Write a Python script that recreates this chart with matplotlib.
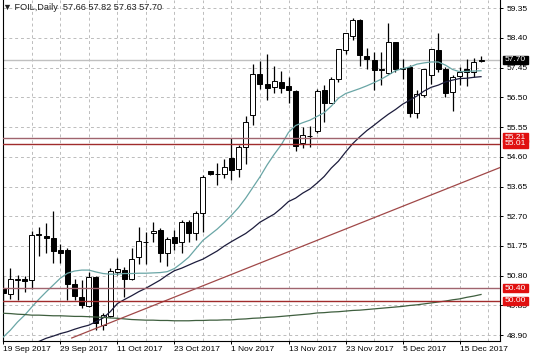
import matplotlib
matplotlib.use("Agg")
import matplotlib.pyplot as plt
from matplotlib.patches import Rectangle
from matplotlib.transforms import blended_transform_factory

plt.rcParams['font.family'] = ['Liberation Sans', 'DejaVu Sans']

# daily OHLC, 19 Sep 2017 .. 20 Dec 2017
opens = [50.40, 50.23, 50.67, 50.71, 50.66, 52.10, 52.07, 52.01, 51.62, 51.62,
         50.52, 50.13, 49.83, 50.75, 49.22, 49.51, 50.91, 50.98, 50.68, 51.40,
         51.87, 52.15, 52.26, 51.54, 52.04, 51.88, 52.52, 52.15, 52.79, 54.14,
         54.04, 54.05, 54.55, 54.20, 54.90, 55.93, 57.24, 56.91, 56.83, 57.00,
         56.87, 56.71, 55.03, 55.25, 55.43, 56.73, 56.32, 57.10, 58.01, 58.46,
         58.97, 57.82, 57.69, 57.38, 57.28, 58.27, 57.41, 57.47, 55.99, 56.57,
         57.21, 58.01, 57.42, 56.68, 57.18, 57.39, 57.32, 57.66]
highs = [50.79, 51.06, 50.82, 50.79, 52.23, 52.36, 52.49, 52.87, 51.80, 51.70,
         50.68, 50.66, 50.93, 50.79, 49.62, 51.06, 51.37, 51.08, 51.70, 52.36,
         52.20, 52.52, 52.34, 52.04, 52.26, 52.58, 52.58, 52.87, 54.02, 54.16,
         54.41, 54.52, 55.19, 54.97, 55.91, 57.58, 57.67, 57.90, 57.50, 57.35,
         57.16, 56.74, 55.54, 55.58, 56.78, 56.89, 57.16, 58.06, 58.57, 59.02,
         58.99, 58.09, 57.95, 57.95, 58.86, 58.27, 57.74, 57.53, 56.73, 57.42,
         58.06, 58.57, 57.47, 57.21, 57.47, 57.74, 57.77, 57.82]
lows = [49.70, 50.07, 50.02, 50.29, 50.36, 51.43, 51.51, 51.21, 51.21, 50.02,
        50.02, 49.76, 49.79, 49.08, 49.08, 49.49, 50.82, 50.13, 50.66, 51.19,
        51.19, 51.88, 51.24, 51.11, 51.62, 51.51, 51.88, 51.94, 52.20, 54.03,
        53.70, 53.91, 53.86, 53.96, 54.37, 55.61, 56.78, 56.41, 56.64, 56.64,
        56.31, 54.78, 54.87, 54.92, 55.35, 55.72, 56.31, 56.99, 57.90, 58.33,
        57.50, 57.42, 56.75, 56.89, 57.24, 57.32, 57.10, 55.88, 55.83, 56.50,
        56.94, 57.32, 56.52, 56.06, 56.89, 56.86, 57.16, 57.63]
closes = [50.24, 50.71, 50.69, 50.63, 52.10, 52.12, 52.01, 51.59, 51.53, 50.52,
          50.15, 49.86, 50.75, 49.28, 49.54, 50.95, 51.01, 50.71, 51.33, 51.91,
          51.89, 52.23, 51.54, 51.96, 51.83, 52.52, 52.15, 52.81, 53.94, 54.05,
          54.06, 54.26, 54.17, 54.90, 55.70, 57.24, 56.91, 56.80, 57.02, 56.80,
          56.73, 54.94, 55.29, 55.27, 56.71, 56.32, 57.07, 58.03, 58.54, 58.97,
          57.85, 57.71, 57.37, 57.40, 58.27, 57.42, 57.43, 55.99, 56.60, 57.39,
          58.03, 57.42, 56.64, 57.14, 57.32, 57.32, 57.63, 57.70]

# moving averages as drawn on the chart
ma_fast = [48.84, 49.06, 49.32, 49.54, 49.80, 50.05, 50.28, 50.50, 50.72, 50.88,
           50.95, 50.98, 50.98, 50.92, 50.87, 50.85, 50.85, 50.87, 50.87, 50.88,
           50.88, 50.89, 50.90, 50.93, 51.03, 51.20, 51.39, 51.66, 51.93, 52.11,
           52.29, 52.50, 52.73, 52.98, 53.28, 53.62, 53.96, 54.34, 54.68, 54.99,
           55.38, 55.60, 55.69, 55.77, 55.89, 56.01, 56.22, 56.47, 56.62, 56.70,
           56.78, 56.87, 56.97, 57.08, 57.21, 57.35, 57.42, 57.47, 57.56, 57.60,
           57.63, 57.63, 57.53, 57.39, 57.32, 57.33, 57.34, 57.35]
ma_slow_start = 5
ma_slow = [48.70, 48.80, 48.87, 48.95, 49.01, 49.09, 49.16, 49.22, 49.33,
           49.45, 49.65, 49.91, 50.04, 50.16, 50.29, 50.40, 50.53, 50.66, 50.82,
           50.96, 51.04, 51.14, 51.24, 51.33, 51.46, 51.59, 51.75, 51.89, 52.02,
           52.15, 52.32, 52.51, 52.64, 52.77, 52.96, 53.17, 53.28, 53.44, 53.57,
           53.76, 53.97, 54.24, 54.46, 54.75, 55.02, 55.24, 55.44, 55.61, 55.79,
           55.96, 56.11, 56.28, 56.41, 56.54, 56.70, 56.82, 56.89, 56.99, 57.05,
           57.10, 57.11, 57.14, 57.16]
ma_long = [49.60, 49.59, 49.57, 49.56, 49.54, 49.54, 49.53, 49.52, 49.52, 49.51,
           49.50, 49.50, 49.49, 49.48, 49.47, 49.45, 49.44, 49.42, 49.40, 49.39,
           49.38, 49.38, 49.37, 49.37, 49.36, 49.36, 49.36, 49.37, 49.37, 49.38,
           49.38, 49.39, 49.39, 49.41, 49.42, 49.44, 49.45, 49.47, 49.48, 49.50,
           49.52, 49.54, 49.56, 49.58, 49.61, 49.62, 49.64, 49.65, 49.67, 49.69,
           49.70, 49.72, 49.74, 49.76, 49.78, 49.80, 49.82, 49.85, 49.87, 49.90,
           49.93, 49.96, 49.99, 50.03, 50.06, 50.11, 50.15, 50.20]

trend_x = [9.6, 69.7]
trend_y = [48.81, 54.26]

level_values = [55.21, 55.01, 50.40, 50.00]
level_colors = ['#a0646e', '#a02c2c', '#a0646e', '#a02c2c']
last_price = 57.70

price_ticks = [48.90, 49.85, 50.80, 51.75, 52.70, 53.65, 54.60, 55.55,
               56.50, 57.45, 58.40, 59.35]
date_pos = [0, 8, 16, 24, 32, 40, 48, 56, 64]
date_labels = ['19 Sep 2017', '29 Sep 2017', '11 Oct 2017', '23 Oct 2017',
               '1 Nov 2017', '13 Nov 2017', '23 Nov 2017', '5 Dec 2017',
               '15 Dec 2017']
title = '\u25bc FOIL,Daily  57.66 57.82 57.63 57.70'

fs = 6.0
fig = plt.figure(figsize=(5.36, 3.57), dpi=100)
ax = fig.add_axes([2.7 / 536, 16.5 / 357, 497.3 / 536, 340.5 / 357])
ax.set_xlim(-0.08, 69.66)
ax.set_ylim(48.73, 59.61)

# grid
for p in price_ticks:
    ax.axhline(p, color='#bcbcbc', lw=0.7, ls=(0, (3, 3)), zorder=0)
for b in range(0, 70, 4):
    ax.axvline(b, color='#bcbcbc', lw=0.7, ls=(0, (3, 3)), zorder=0)
ax.axhline(last_price, color='#c0c0c0', lw=1.0, zorder=1)

# candles
xs = list(range(len(opens)))
ax.vlines(xs, lows, highs, color='black', lw=0.9, zorder=2)
for i in xs:
    o, c = opens[i], closes[i]
    bull = c >= o
    ax.bar(i, c - o if abs(c - o) > 0.005 else 0.01, bottom=o, width=0.7,
           color='white' if bull else 'black', edgecolor='black', lw=0.7,
           zorder=3)

# indicators
ax.plot(xs, ma_fast, color='#6aa6a6', lw=0.9, zorder=4)
ax.plot(range(ma_slow_start, ma_slow_start + len(ma_slow)), ma_slow,
        color='#1c1c3c', lw=0.9, zorder=4)
ax.plot(xs, ma_long, color='#3f5f3f', lw=0.9, zorder=4)
ax.plot(trend_x, trend_y, color='#a04848', lw=0.9, zorder=4)
for v, col in zip(level_values, level_colors):
    ax.axhline(v, color=col, lw=1.0, zorder=4)

# axes styling
ax.spines['top'].set_visible(False)
for s in ['left', 'right', 'bottom']:
    ax.spines[s].set_color('black')
    ax.spines[s].set_linewidth(0.8)
ax.yaxis.tick_right()
ax.set_yticks(price_ticks)
ax.set_yticklabels([f'{p:.2f}' for p in price_ticks], fontsize=fs)
ax.tick_params(axis='y', length=2.5, pad=2.5, width=0.7)
ax.set_xticks(date_pos)
ax.set_xticklabels(date_labels, fontsize=fs, ha='left')
ax.tick_params(axis='x', length=2.5, pad=1.5, width=0.7)

# price label boxes on the right axis
tr = blended_transform_factory(ax.transAxes, ax.transData)
box_h = 0.27
boxes = [(v, '#e01010') for v in level_values[:2]] + \
        [(last_price, 'black')] + [(v, '#e01010') for v in level_values[2:]]
for v, col in boxes:
    ax.add_patch(Rectangle((1.006, v - box_h / 2), 0.050, box_h, transform=tr,
                           facecolor=col, edgecolor=col, clip_on=False,
                           zorder=10))
    ax.text(1.031, v, f'{v:.2f}', transform=tr, color='white', fontsize=fs,
            ha='center', va='center', clip_on=False, zorder=11)

fig.text(3 / 536, 1 - 8 / 357, title, fontsize=6.6, va='center', ha='left',
         color='#202020')

fig.savefig('out.png', dpi=100)
